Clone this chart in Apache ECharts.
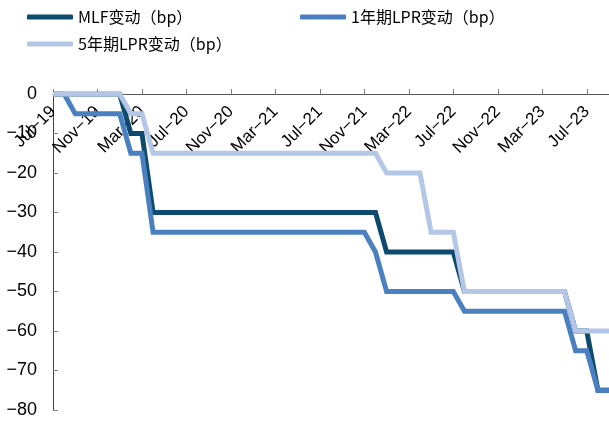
<!DOCTYPE html>
<html>
<head>
<meta charset="utf-8">
<script src="https://cdn.jsdelivr.net/npm/echarts@6/dist/echarts.min.js"></script>
<style>
  html, body { margin: 0; padding: 0; background: #fff; }
  #chart { width: 609px; height: 423px; }
</style>
</head>
<body>
<div id="chart"></div>
<script>
// Monthly observations, Jul-19 .. Sep-23
const months = [
  'Jul-19','Aug-19','Sep-19','Oct-19','Nov-19','Dec-19',
  'Jan-20','Feb-20','Mar-20','Apr-20','May-20','Jun-20','Jul-20','Aug-20','Sep-20','Oct-20','Nov-20','Dec-20',
  'Jan-21','Feb-21','Mar-21','Apr-21','May-21','Jun-21','Jul-21','Aug-21','Sep-21','Oct-21','Nov-21','Dec-21',
  'Jan-22','Feb-22','Mar-22','Apr-22','May-22','Jun-22','Jul-22','Aug-22','Sep-22','Oct-22','Nov-22','Dec-22',
  'Jan-23','Feb-23','Mar-23','Apr-23','May-23','Jun-23','Jul-23','Aug-23','Sep-23'
];

// Cumulative change, bp
const mlfChange = [
  0, 0, 0, 0, 0, 0,
  0, -10, -10, -30, -30, -30, -30, -30, -30, -30, -30, -30,
  -30, -30, -30, -30, -30, -30, -30, -30, -30, -30, -30, -30,
  -40, -40, -40, -40, -40, -40, -40, -50, -50, -50, -50, -50,
  -50, -50, -50, -50, -50, -60, -60, -75, -75
];
const lpr1yChange = [
  0, 0, -5, -5, -5, -5,
  -5, -15, -15, -35, -35, -35, -35, -35, -35, -35, -35, -35,
  -35, -35, -35, -35, -35, -35, -35, -35, -35, -35, -35, -40,
  -50, -50, -50, -50, -50, -50, -50, -55, -55, -55, -55, -55,
  -55, -55, -55, -55, -55, -65, -65, -75, -75
];
const lpr5yChange = [
  0, 0, 0, 0, 0, 0,
  0, -5, -5, -15, -15, -15, -15, -15, -15, -15, -15, -15,
  -15, -15, -15, -15, -15, -15, -15, -15, -15, -15, -15, -15,
  -20, -20, -20, -20, -35, -35, -35, -50, -50, -50, -50, -50,
  -50, -50, -50, -50, -50, -60, -60, -60, -60
];

const seriesNames = ['MLF变动（bp）', '1年期LPR变动（bp）', '5年期LPR变动（bp）'];
const seriesColors = ['#0d4a6e', '#4a80c0', '#b4c7e7'];

const yTicks = { min: -80, max: 0, step: 10 };

const legendFont = '"Noto Sans CJK SC", "Noto Sans", sans-serif';
const latinFont = '"Liberation Sans", Arial, sans-serif';
const minus = s => String(s).replace('-', '\u2212');

const legendBase = {
  itemWidth: 46,
  itemHeight: 5,
  icon: 'roundRect',
  itemGap: 4,
  padding: 0,
  textStyle: { fontSize: 16, color: '#000', fontFamily: legendFont }
};

const gridBox = { left: 53, right: 0, top: 94, bottom: 13 };
const plotHeight = 423 - gridBox.top - gridBox.bottom;

const chart = echarts.init(document.getElementById('chart'), null, { renderer: 'canvas' });

chart.setOption({
  animation: false,
  backgroundColor: '#fff',
  legend: [
    Object.assign({ data: [seriesNames[0]], left: 27, top: 9 }, legendBase),
    Object.assign({ data: [seriesNames[1]], left: 300, top: 9 }, legendBase),
    Object.assign({ data: [seriesNames[2]], left: 27, top: 36 }, legendBase)
  ],
  grid: Object.assign({ containLabel: false, outerBoundsMode: 'none' }, gridBox),
  xAxis: {
    type: 'category',
    position: 'bottom',
    // the date axis runs along the zero line at the top of the plot
    offset: -plotHeight,
    data: months,
    boundaryGap: false,
    axisLine: { onZero: false, lineStyle: { color: '#595959', width: 1 } },
    axisTick: { inside: true, length: 5, interval: 3, lineStyle: { color: '#7f7f7f' } },
    axisLabel: {
      interval: 3,
      rotate: 45,
      margin: 15,
      fontSize: 17,
      color: '#000',
      fontFamily: latinFont,
      formatter: v => minus(v)
    },
    splitLine: { show: false }
  },
  yAxis: {
    type: 'value',
    min: yTicks.min,
    max: yTicks.max,
    interval: yTicks.step,
    axisLine: { show: true, lineStyle: { color: '#404040', width: 1 } },
    axisTick: { show: true, inside: true, length: 5, lineStyle: { color: '#7f7f7f' } },
    axisLabel: {
      margin: 16,
      fontSize: 18,
      color: '#000',
      fontFamily: latinFont,
      formatter: v => minus(v)
    },
    splitLine: { show: false }
  },
  series: [mlfChange, lpr1yChange, lpr5yChange].map((d, i) => ({
    name: seriesNames[i],
    type: 'line',
    data: d,
    showSymbol: false,
    symbol: 'none',
    z: 2 + i,
    color: seriesColors[i],
    lineStyle: { width: 5, color: seriesColors[i], join: 'miter' },
    emphasis: { disabled: true }
  }))
});
</script>
</body>
</html>
